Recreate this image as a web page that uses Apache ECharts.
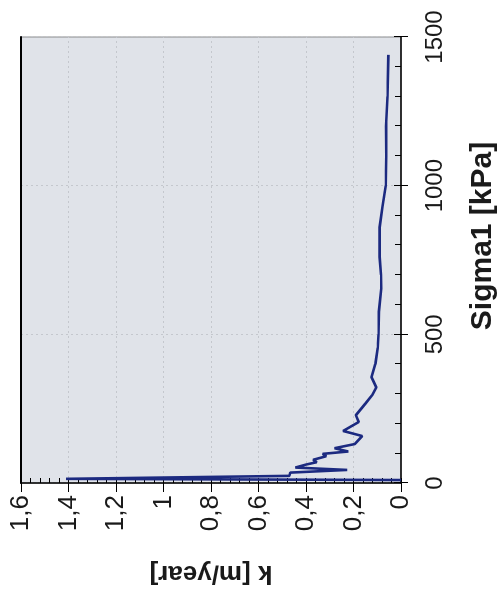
<!DOCTYPE html>
<html><head><meta charset="utf-8">
<script src="https://cdn.jsdelivr.net/npm/echarts@6/dist/echarts.min.js"></script>
<style>
html,body{margin:0;padding:0;background:#fff;overflow:hidden;width:503px;height:594px}
#c{position:absolute;left:0;top:0;width:594px;height:503px;transform-origin:0 0;transform:translateY(594px) rotate(-90deg);}
</style></head><body><div id="c"></div>
<script>
const sigma = [10, 14, 24, 35, 44, 52, 62, 70, 78, 90, 98, 106, 117, 131, 158, 175, 205, 228, 267, 295, 322, 356, 400, 455, 500, 576, 654, 700, 760, 860, 930, 1000, 1100, 1200, 1300, 1440];
const kVals = [0.0, 1.41, 0.47, 0.466, 0.227, 0.445, 0.40, 0.355, 0.37, 0.315, 0.33, 0.222, 0.28, 0.195, 0.163, 0.244, 0.178, 0.19, 0.15, 0.122, 0.104, 0.124, 0.108, 0.098, 0.095, 0.093, 0.083, 0.084, 0.09, 0.09, 0.078, 0.064, 0.062, 0.063, 0.057, 0.053];
const sigmaMin = 0, sigmaMax = 1500, sigmaStep = 500;
const kMin = 0, kMax = 1.6, kStep = 0.2;
const sigmaTitle = 'Sigma1 [kPa]';
const kTitle = 'k [m/year]';

const data = sigma.map((s, i) => [s, kVals[i]]);
const font = 'Liberation Sans, Arial, sans-serif';
const chart = echarts.init(document.getElementById('c'), null, {renderer: 'canvas'});
chart.setOption({
  animation: false,
  backgroundColor: '#ffffff',
  grid: {left: 103, right: 37, top: 21, bottom: 102, show: true, backgroundColor: '#e0e3e9', borderColor: '#8a8a8a', borderWidth: 1},
  xAxis: [
    {type: 'value', min: sigmaMin, max: sigmaMax, interval: sigmaStep, position: 'bottom',
     axisLine: {show: true, lineStyle: {color: '#000', width: 1.5}},
     axisTick: {show: true, length: 7, lineStyle: {color: '#000'}},
     axisLabel: {fontSize: 24, color: '#1a1a1a', margin: 22, fontFamily: font, formatter: v => String(v)},
     splitLine: {show: true, lineStyle: {type: [2, 3], color: '#c4c7cd', width: 1}},
     name: sigmaTitle, nameLocation: 'middle', nameGap: 67,
     nameTextStyle: {fontSize: 30, fontWeight: 'bold', color: '#1a1a1a', fontFamily: font, padding: [0, 0, 0, 48]}},
    {type: 'value', min: sigmaMin, max: sigmaMax, interval: sigmaStep, position: 'bottom',
     axisLine: {show: false}, axisTick: {show: true, inside: true, length: 7, lineStyle: {color: '#000'}},
     minorTick: {show: true, splitNumber: 5, length: 6, lineStyle: {color: '#000'}},
     axisLabel: {show: false}, splitLine: {show: false}},
    {type: 'value', min: sigmaMin, max: sigmaMax, position: 'top',
     axisLine: {show: true, lineStyle: {color: '#000', width: 2}},
     axisTick: {show: false}, axisLabel: {show: false}, splitLine: {show: false}}
  ],
  yAxis: [
    {type: 'value', min: kMin, max: kMax, interval: kStep, position: 'left',
     axisLine: {show: true, lineStyle: {color: '#000', width: 1.5}},
     axisTick: {show: true, length: 9, lineStyle: {color: '#000'}},
     axisLabel: {fontSize: 26, color: '#1a1a1a', margin: 12, fontFamily: font,
                 formatter: v => String(Math.round(v * 10) / 10).replace('.', ',')},
     splitLine: {show: true, lineStyle: {type: [2, 3], color: '#c4c7cd', width: 1}},
     name: kTitle, nameLocation: 'middle', nameGap: 77,
     nameTextStyle: {fontSize: 26, fontWeight: 'bold', color: '#1a1a1a', fontFamily: font}},
    {type: 'value', min: kMin, max: kMax, interval: kStep, position: 'left',
     axisLine: {show: false}, axisTick: {show: true, inside: true, length: 5, lineStyle: {color: '#000'}},
     minorTick: {show: true, splitNumber: 5, length: 5, lineStyle: {color: '#000'}},
     axisLabel: {show: false}, splitLine: {show: false}}
  ],
  series: [{
    type: 'line', xAxisIndex: 0, yAxisIndex: 0, data: data,
    showSymbol: false, symbol: 'none',
    lineStyle: {color: '#1c2a80', width: 2.6}
  }]
});
</script></body></html>
